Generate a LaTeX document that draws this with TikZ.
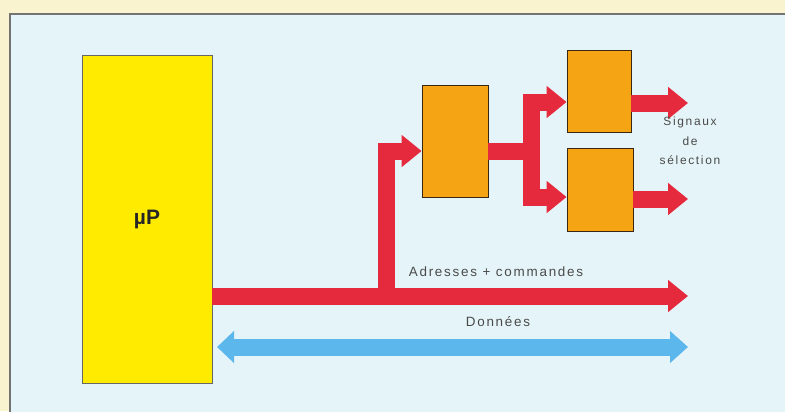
\documentclass[tikz,border=0pt]{standalone}
\usepackage{fontspec}
\setmainfont{Liberation Sans}
\usetikzlibrary{arrows.meta}
\definecolor{cream}{HTML}{FAF3D0}
\definecolor{panel}{HTML}{E5F4F8}
\definecolor{busred}{HTML}{E62A3E}
\definecolor{busblue}{HTML}{5BB7EC}
\definecolor{boxorange}{HTML}{F5A514}
\definecolor{boxyellow}{HTML}{FFEB00}
\definecolor{txt}{HTML}{4A4A4A}
\tikzset{
  bigtip/.style={-{Triangle[length=20bp,width=31bp]}},
  redbus/.style={draw=busred, line width=17bp, line join=miter, bigtip},
  bluebus/.style={draw=busblue, line width=17bp, {Triangle[length=17bp,width=31bp]}-{Triangle[length=18bp,width=31bp]}},
  block/.style={draw=black!70!brown, line width=0.8bp, fill=boxorange, inner sep=0pt},
  label/.style={text=txt, font=\fontsize{13.5}{15}\selectfont\addfontfeatures{LetterSpace=13}}
}
\begin{document}
\begin{tikzpicture}[x=1bp,y=-1bp]
\useasboundingbox (0,0) rectangle (785,411);
\fill[cream] (0,0) rectangle (785,411);
\filldraw[fill=panel, draw=black!55, line width=1.5bp] (10,14) rectangle (800,430);
% blocks
\node[draw=black!60, line width=0.8bp, fill=boxyellow, minimum width=130bp, minimum height=328bp, inner sep=0pt,
      font=\fontsize{21}{23}\selectfont\bfseries, text=black!85] (jp) at (147,219) {µP};
\node[block, minimum width=66bp, minimum height=112bp] (b1) at (455,141) {};
\node[block, minimum width=64bp, minimum height=82bp] (b2) at (599,91) {};
\node[block, minimum width=66bp, minimum height=83bp] (b3) at (600,190) {};
% coordinates
\coordinate (mainend) at (688,296);
\coordinate (split) at (386,296);
\coordinate (turn) at (386,151);
\coordinate (fork) at (531,151);
\coordinate (forkA) at (531,102);
\coordinate (forkB) at (531,197);
\coordinate (outA) at (688,103);
\coordinate (outB) at (688,199);
\coordinate (dl) at (217,347);
\coordinate (dr) at (688,347);
% buses
\draw[redbus] (split) -- (turn) -- (b1.west |- turn);
\draw[redbus] (jp.east |- mainend) -- (mainend);
\draw[redbus, -] (b1.east |- fork) -- (fork);
\draw[redbus, {Triangle[length=20bp,width=31bp]}-{Triangle[length=20bp,width=31bp]}]
   (b2.west |- forkA) -- (forkA) -- (forkB) -- (b3.west |- forkB);
\draw[redbus] (b2.east |- outA) -- (outA);
\draw[redbus] (b3.east |- outB) -- (outB);
\draw[bluebus] (dl) -- (dr);
% labels
\node[label] (la) at (496,272) {Adresses + commandes};
\node[label] (ld) at (498,322) {Données};
\node[text=txt, align=center, font=\fontsize{12}{19.5}\selectfont\addfontfeatures{LetterSpace=14}] (ls) at (690,141) {Signaux\\de\\sélection};
\end{tikzpicture}
\end{document}
